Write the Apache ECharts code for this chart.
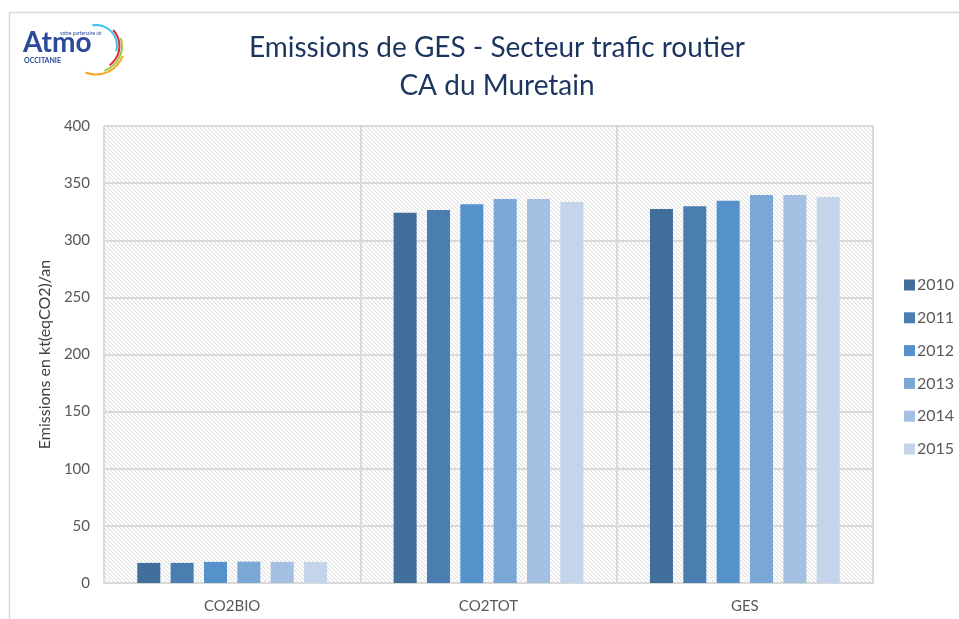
<!DOCTYPE html>
<html>
<head>
<meta charset="utf-8">
<script src="https://cdn.jsdelivr.net/npm/echarts@6/dist/echarts.min.js"></script>
<style>
  html, body { margin: 0; padding: 0; background: #fff; }
  #chart { width: 959px; height: 619px; }
</style>
</head>
<body>
<div id="chart"></div>
<script>
// Emissions de GES - trafic routier, CA du Muretain
var categories = ['CO2BIO', 'CO2TOT', 'GES'];
var years = ['2010', '2011', '2012', '2013', '2014', '2015'];
var colors = ['#416e9a', '#4a7eb0', '#5592cb', '#7ba7d7', '#a3c0e3', '#c3d4eb'];

var v2010 = [17.6, 324, 327.4];
var v2011 = [17.6, 326.5, 329.7];
var v2012 = [18.5, 331.5, 334.6];
var v2013 = [18.7, 336, 339.6];
var v2014 = [18.5, 336, 339.6];
var v2015 = [18.3, 333.5, 337.9];
var values = [v2010, v2011, v2012, v2013, v2014, v2015];

var yTicks = [0, 50, 100, 150, 200, 250, 300, 350, 400];

// hatched background of the plot area
function hatch() {
    var c = document.createElement('canvas');
    c.width = 4;
    c.height = 4;
    var ctx = c.getContext('2d');
    ctx.fillStyle = '#ffffff';
    ctx.fillRect(0, 0, 4, 4);
    ctx.fillStyle = '#e2e2e2';
    for (var i = 0; i < 4; i++) {
        ctx.fillRect(i, i, 1, 1);
    }
    ctx.fillStyle = '#f1f1f1';
    for (var j = 0; j < 4; j++) {
        ctx.fillRect((j + 1) % 4, j, 1, 1);
    }
    return { image: c, repeat: 'repeat' };
}

var myChart = echarts.init(document.getElementById('chart'));

var series = years.map(function (y, i) {
    return {
        name: y,
        type: 'bar',
        data: values[i],
        barWidth: 23,
        barGap: '45%',
        itemStyle: { color: colors[i] }
    };
});

var option = {
    animation: false,
    backgroundColor: '#ffffff',
    textStyle: { fontFamily: 'Lato' },
    title: {
        text: 'Emissions de GES - Secteur trafic routier\nCA du Muretain',
        left: 492,
        top: 24,
        textAlign: 'center',
        textStyle: {
            fontFamily: 'Lato',
            fontWeight: 'normal',
            fontSize: 28,
            lineHeight: 38,
            color: '#1c355e'
        }
    },
    legend: {
        orient: 'vertical',
        left: 899,
        top: 272,
        itemWidth: 11,
        itemHeight: 11,
        itemGap: 16.8,
        icon: 'rect',
        textStyle: { fontSize: 16, color: '#595959', padding: [0, 0, 0, -3] },
        data: years
    },
    grid: {
        left: 104,
        right: 86,
        top: 126,
        bottom: 36,
        show: true,
        borderWidth: 0,
        backgroundColor: hatch()
    },
    xAxis: {
        type: 'category',
        data: categories,
        axisLine: { show: true, lineStyle: { color: '#d9d9d9', width: 2 } },
        axisTick: { show: false },
        axisLabel: { fontSize: 15, color: '#595959', margin: 16 },
        splitLine: { show: true, lineStyle: { color: '#d9d9d9', width: 2 } }
    },
    yAxis: {
        type: 'value',
        min: yTicks[0],
        max: yTicks[yTicks.length - 1],
        interval: 50,
        name: 'Emissions en kt(eqCO2)/an',
        nameLocation: 'middle',
        nameGap: 50,
        nameTextStyle: { fontSize: 16, color: '#404040' },
        axisLine: { show: false },
        axisTick: { show: false },
        axisLabel: { fontSize: 15, color: '#595959', margin: 14 },
        splitLine: { lineStyle: { color: '#d9d9d9', width: 2 } }
    },
    graphic: [
        // outer frame
        { type: 'polyline', shape: { points: [[9.5, 640], [9.5, 12.5], [980, 12.5]] },
          style: { stroke: '#d9d9d9', lineWidth: 1.5, fill: null } },
        // logo
        { type: 'text', left: 23, top: 29,
          style: { text: 'Atmo', fontFamily: 'Lato', fontWeight: 'bold', fontSize: 28, fill: '#2b4a9a' } },
        { type: 'text', left: 60, top: 31,
          style: { text: 'votre partenaire air', fontFamily: 'Lato', fontSize: 5, fill: '#2b4a9a' } },
        { type: 'text', left: 24, top: 57,
          style: { text: 'OCCITANIE', fontFamily: 'Lato', fontWeight: 'bold', fontSize: 7, fill: '#2b4a9a' } },
        { type: 'arc', shape: { cx: 96, cy: 46, r: 21, startAngle: -1.75, endAngle: 0.25 },
          style: { stroke: '#3fc0ea', lineWidth: 2, fill: null } },
        { type: 'arc', shape: { cx: 96, cy: 46, r: 23.5, startAngle: -0.75, endAngle: 0.95 },
          style: { stroke: '#e0283f', lineWidth: 2, fill: null } },
        { type: 'arc', shape: { cx: 96, cy: 46, r: 26, startAngle: -0.3, endAngle: 1.25 },
          style: { stroke: '#9cc73c', lineWidth: 2, fill: null } },
        { type: 'arc', shape: { cx: 96, cy: 46, r: 28.5, startAngle: 0.35, endAngle: 1.95 },
          style: { stroke: '#f5a623', lineWidth: 2, fill: null } }
    ],
    series: series
};

myChart.setOption(option);
</script>
</body>
</html>
